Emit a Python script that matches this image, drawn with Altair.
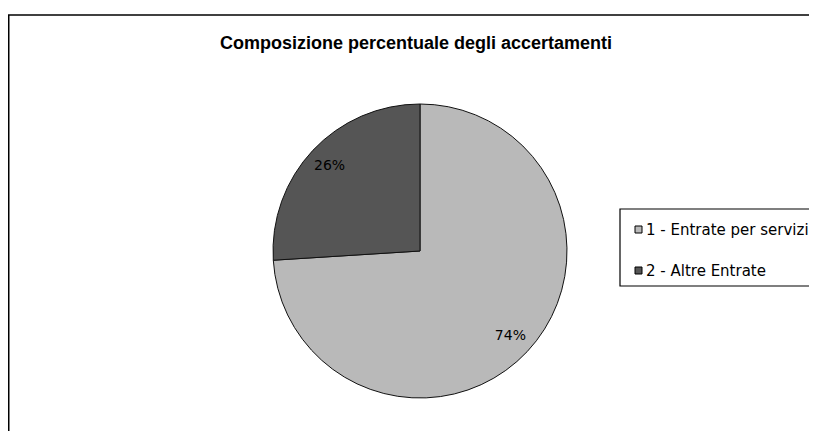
import altair as alt
import pandas as pd

title_text = "Composizione percentuale degli accertamenti"
categories = ["1 - Entrate per servizi", "2 - Altre Entrate"]
values = [74, 26]
labels = ["74%", "26%"]
colors = ["#b9b9b9", "#555555"]

df = pd.DataFrame({"cat": categories, "value": values, "label": labels,
                   "ord": list(range(len(categories)))})

CX, CY, R = 412, 243, 147

color_enc = alt.Color("cat:N", scale=alt.Scale(domain=categories, range=colors),
                      legend=alt.Legend(title=None, orient="none", legendX=623, legendY=214,
                                        symbolType="square", symbolSize=49,
                                        symbolStrokeColor="black", symbolStrokeWidth=1,
                                        labelFont="DejaVu Sans", labelFontSize=15,
                                        labelColor="black", labelOffset=0, labelLimit=400,
                                        rowPadding=25, padding=0))

base = alt.Chart(df)

arcs = base.mark_arc(radius=R, stroke="#111111", strokeWidth=1).encode(
    theta=alt.Theta("value:Q", stack=True),
    order=alt.Order("ord:Q"),
    color=color_enc,
    x=alt.value(CX), y=alt.value(CY),
)

texts = base.mark_text(font="DejaVu Sans", fontSize=14, color="black").encode(
    theta=alt.Theta("value:Q", stack=True),
    order=alt.Order("ord:Q"),
    radius=alt.value(124),
    text="label:N",
    x=alt.value(CX), y=alt.value(CY),
)

title_df = pd.DataFrame({"t": [title_text]})
title = alt.Chart(title_df).mark_text(font="Liberation Sans", fontWeight="bold", fontSize=18,
                                      color="black", baseline="alphabetic").encode(
    text="t:N", x=alt.value(408), y=alt.value(41))

frame_df = pd.DataFrame({"k": [0]})
top_rule = alt.Chart(frame_df).mark_rule(color="black", strokeWidth=1.5).encode(
    x=alt.value(0), x2=alt.value(801), y=alt.value(7))
left_rule = alt.Chart(frame_df).mark_rule(color="black", strokeWidth=1.5).encode(
    x=alt.value(0.75), y=alt.value(7), y2=alt.value(423))
legend_box = alt.Chart(frame_df).mark_rect(fill="white", stroke="black", strokeWidth=1.2).encode(
    x=alt.value(612), x2=alt.value(830), y=alt.value(201), y2=alt.value(278))

chart = alt.layer(top_rule, left_rule, legend_box, title, arcs, texts).properties(
    width=801, height=423, padding=0, autosize=alt.AutoSizeParams(type="none"),
    background="white"
).configure_view(stroke=None)

chart.save("out.html", embed_options={"renderer": "svg", "actions": False})
